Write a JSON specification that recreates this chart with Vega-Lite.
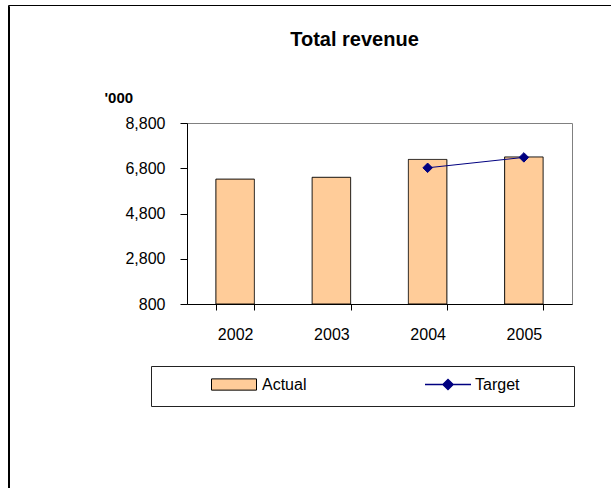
{
  "$schema": "https://vega.github.io/schema/vega-lite/v6.json",
  "autosize": {"type": "none"},
  "width": 385,
  "height": 181,
  "padding": {"left": 187, "top": 123, "right": 39, "bottom": 184},
  "background": "white",
  "config": {
    "font": "Liberation Sans, Arial, sans-serif",
    "view": {"stroke": "#808080", "strokeWidth": 1},
    "axis": {"labelFont": "Liberation Sans, Arial, sans-serif", "labelColor": "black", "labelFontSize": 16, "domainColor": "black", "tickColor": "black", "grid": false},
    "legend": {"labelFont": "Liberation Sans, Arial, sans-serif", "labelColor": "black", "labelFontSize": 16, "title": null}
  },
  "title": {
    "text": "Total revenue",
    "fontSize": 20,
    "fontWeight": "bold",
    "color": "black",
    "anchor": "middle",
    "frame": "group",
    "dx": -25,
    "baseline": "alphabetic",
    "offset": -61
  },
  "data": {
    "values": [
      {"year": "2002", "actual": 6320, "target": null},
      {"year": "2003", "actual": 6400, "target": null},
      {"year": "2004", "actual": 7190, "target": 6820},
      {"year": "2005", "actual": 7300, "target": 7280}
    ]
  },
  "encoding": {
    "x": {
      "field": "year",
      "type": "nominal",
      "scale": {"paddingInner": 0.6, "paddingOuter": 0.3},
      "axis": {"title": null, "labelAngle": 0, "tickBand": "extent", "tickSize": 6, "labelPadding": 16}
    }
  },
  "layer": [
    {
      "mark": {"type": "bar", "stroke": "black", "strokeWidth": 1},
      "encoding": {
        "y": {
          "field": "actual",
          "type": "quantitative",
          "scale": {"domain": [800, 8800], "nice": false, "zero": false},
          "axis": {
            "values": [800, 2800, 4800, 6800, 8800],
            "format": ",d",
            "tickSize": 7,
            "labelPadding": 15,
            "title": "'000",
            "titleAngle": 0,
            "titleAlign": "left",
            "titleBaseline": "alphabetic",
            "titleX": -83,
            "titleY": -21,
            "titleFontSize": 15,
            "titleFontWeight": "bold",
            "titleColor": "black",
            "titleFont": "Liberation Sans, Arial, sans-serif"
          }
        },
        "y2": {"datum": 800},
        "fill": {
          "datum": "Actual",
          "type": "nominal",
          "scale": {"range": ["#FFCC99"]},
          "legend": {
            "title": null,
            "orient": "none",
            "legendX": 24,
            "legendY": 253.5,
            "padding": 0,
            "symbolType": "M-1,-0.25H1V0.25H-1Z",
            "symbolSize": 2025,
            "symbolStrokeColor": "black",
            "symbolStrokeWidth": 1,
            "clipHeight": 16,
            "labelOffset": 5
          }
        },
        "strokeDash": {
          "datum": "box",
          "type": "nominal",
          "scale": {"range": [[1, 0]]},
          "legend": {
            "title": null,
            "orient": "none",
            "legendX": -36,
            "legendY": 243,
            "padding": 0,
            "strokeColor": "#222222",
            "symbolType": "M-1,-0.0946L-1,-0.0946M1,0.0946L1,0.0946",
            "symbolSize": 178929,
            "symbolStrokeWidth": 0,
            "symbolOpacity": 0,
            "clipHeight": 40,
            "labelOffset": 0,
            "labelExpr": "''"
          }
        }
      }
    },
    {
      "transform": [{"filter": "isValid(datum.target)"}],
      "mark": {"type": "line", "point": {"shape": "diamond", "size": 90, "filled": true, "fill": "#000080", "stroke": "#000080"}},
      "encoding": {
        "y": {"field": "target", "type": "quantitative"},
        "stroke": {
          "datum": "Target",
          "type": "nominal",
          "scale": {"range": ["#000080"]},
          "legend": {
            "title": null,
            "orient": "none",
            "legendX": 237,
            "legendY": 253.5,
            "padding": 0,
            "symbolType": "M-1,0H1M0,-0.22L0.22,0L0,0.22L-0.22,0Z",
            "symbolSize": 2116,
            "symbolFillColor": "#000080",
            "symbolStrokeWidth": 1.5,
            "clipHeight": 16,
            "labelOffset": 3
          }
        },
        "opacity": {
          "datum": "frame",
          "type": "ordinal",
          "scale": {"range": [1]},
          "legend": {
            "title": null,
            "orient": "none",
            "legendX": -179,
            "legendY": -118,
            "padding": 0,
            "strokeColor": "black",
            "symbolType": "M-1,-0.8125L-1,-0.8125M1,0.8125L1,0.8125",
            "symbolSize": 409600,
            "symbolStrokeWidth": 0,
            "symbolOpacity": 0,
            "clipHeight": 520,
            "labelOffset": 0,
            "labelExpr": "''"
          }
        },
        "strokeWidth": {
          "datum": "frame2",
          "type": "nominal",
          "scale": {"range": [1.5]},
          "legend": {
            "title": null,
            "orient": "none",
            "legendX": -178,
            "legendY": -117,
            "padding": 0,
            "strokeColor": "black",
            "symbolType": "M-1,-0.8125L-1,-0.8125M1,0.8125L1,0.8125",
            "symbolSize": 409600,
            "symbolOpacity": 0,
            "clipHeight": 520,
            "labelOffset": 0,
            "labelExpr": "''"
          }
        }
      }
    }
  ]
}
